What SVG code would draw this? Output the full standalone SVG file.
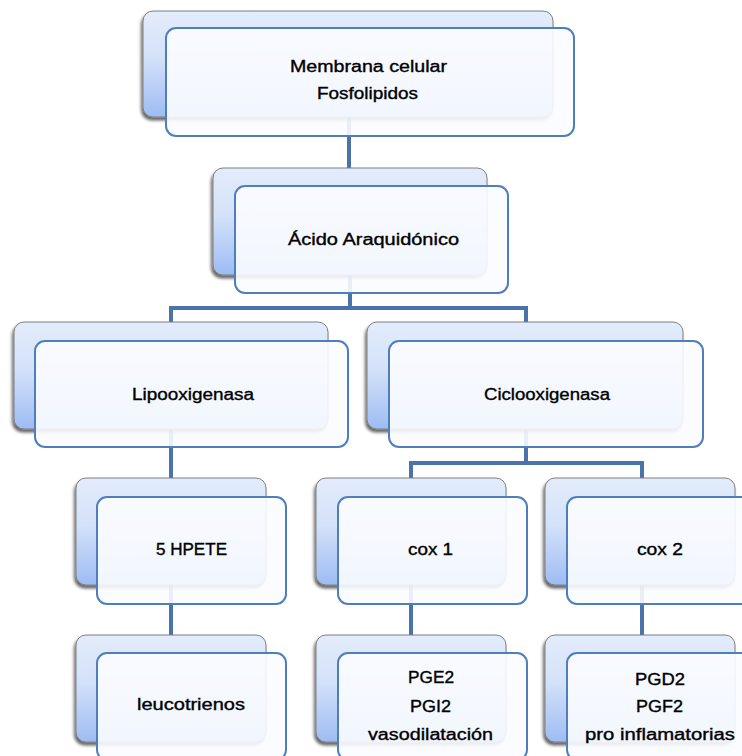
<svg xmlns="http://www.w3.org/2000/svg" width="742" height="756" viewBox="0 0 742 756">
<defs>
  <linearGradient id="bg" x1="0" y1="0" x2="0" y2="1">
    <stop offset="0" stop-color="#e3ecfb"/>
    <stop offset="0.45" stop-color="#d3e1f9"/>
    <stop offset="1" stop-color="#9dbcf4"/>
  </linearGradient>
  <filter id="sh" x="-10%" y="-10%" width="120%" height="130%">
    <feDropShadow dx="-1.5" dy="3" stdDeviation="1.8" flood-color="#000" flood-opacity="0.6"/>
  </filter>
  <style>
    .back { fill: url(#bg); stroke: #7f7f7f; stroke-width: 1; filter: url(#sh); }
    .front { fill: #fbfcff; fill-opacity: 0.9; stroke: #4f7fbb; stroke-width: 2; }
    .conn { fill: none; stroke: #4a73aa; stroke-width: 4; }
    text { font-family: "Liberation Sans", Arial, sans-serif; font-size: 16px; fill: #000; stroke: #000; stroke-width: 0.35; }
  </style>
</defs>
<rect width="742" height="756" fill="#ffffff"/>
<g id="connectors">
  <path class="conn" d="M349 117 V168"/>
  <path class="conn" d="M350 275 V308"/>
  <path class="conn" d="M171 322 V308 H526 V322"/>
  <path class="conn" d="M171 429 V478"/>
  <path class="conn" d="M526 429 V463"/>
  <path class="conn" d="M411 478 V463 H642 V478"/>
  <path class="conn" d="M171 585 V635"/>
  <path class="conn" d="M411 585 V635"/>
  <path class="conn" d="M642 585 V635"/>
</g>
<g id="membrana">
  <rect class="back" x="143" y="11" width="410" height="106" rx="10"/>
  <rect class="front" x="166" y="28" width="408" height="108" rx="10"/>
  <text x="290" y="72" textLength="157" lengthAdjust="spacingAndGlyphs">Membrana celular</text>
  <text x="317" y="99" textLength="101" lengthAdjust="spacingAndGlyphs">Fosfolipidos</text>
</g>
<g id="acido">
  <rect class="back" x="213" y="168" width="274" height="107" rx="10"/>
  <rect class="front" x="235" y="186" width="273" height="107" rx="10"/>
  <text x="288" y="245" textLength="171" lengthAdjust="spacingAndGlyphs">Ácido Araquidónico</text>
</g>
<g id="lipooxigenasa">
  <rect class="back" x="14" y="322" width="314" height="107" rx="10"/>
  <rect class="front" x="35" y="341" width="313" height="106" rx="10"/>
  <text x="132" y="400" textLength="122" lengthAdjust="spacingAndGlyphs">Lipooxigenasa</text>
</g>
<g id="ciclooxigenasa">
  <rect class="back" x="367" y="322" width="316" height="107" rx="10"/>
  <rect class="front" x="389" y="341" width="314" height="106" rx="10"/>
  <text x="484" y="400" textLength="126" lengthAdjust="spacingAndGlyphs">Ciclooxigenasa</text>
</g>
<g id="hpete">
  <rect class="back" x="76" y="478" width="190" height="107" rx="10"/>
  <rect class="front" x="97" y="497" width="189" height="107" rx="10"/>
  <text x="156" y="555" textLength="71" lengthAdjust="spacingAndGlyphs">5 HPETE</text>
</g>
<g id="cox1">
  <rect class="back" x="316" y="478" width="190" height="107" rx="10"/>
  <rect class="front" x="338" y="497" width="189" height="107" rx="10"/>
  <text x="408" y="555" textLength="45" lengthAdjust="spacingAndGlyphs">cox 1</text>
</g>
<g id="cox2">
  <rect class="back" x="545" y="478" width="190" height="107" rx="10"/>
  <rect class="front" x="567" y="497" width="189" height="107" rx="10"/>
  <text x="637" y="555" textLength="46" lengthAdjust="spacingAndGlyphs">cox 2</text>
</g>
<g id="leucotrienos">
  <rect class="back" x="76" y="635" width="190" height="107" rx="10"/>
  <rect class="front" x="97" y="653" width="189" height="107" rx="10"/>
  <text x="137" y="710" textLength="108" lengthAdjust="spacingAndGlyphs">leucotrienos</text>
</g>
<g id="pge2">
  <rect class="back" x="316" y="635" width="190" height="107" rx="10"/>
  <rect class="front" x="338" y="653" width="189" height="107" rx="10"/>
  <text x="408" y="683" textLength="46" lengthAdjust="spacingAndGlyphs">PGE2</text>
  <text x="410" y="712" textLength="41" lengthAdjust="spacingAndGlyphs">PGI2</text>
  <text x="368" y="740" textLength="125" lengthAdjust="spacingAndGlyphs">vasodilatación</text>
</g>
<g id="pgd2">
  <rect class="back" x="545" y="635" width="190" height="107" rx="10"/>
  <rect class="front" x="567" y="653" width="189" height="107" rx="10"/>
  <text x="635" y="685" textLength="50" lengthAdjust="spacingAndGlyphs">PGD2</text>
  <text x="636" y="712" textLength="47" lengthAdjust="spacingAndGlyphs">PGF2</text>
  <text x="585" y="740" textLength="150" lengthAdjust="spacingAndGlyphs">pro inflamatorias</text>
</g>
</svg>
